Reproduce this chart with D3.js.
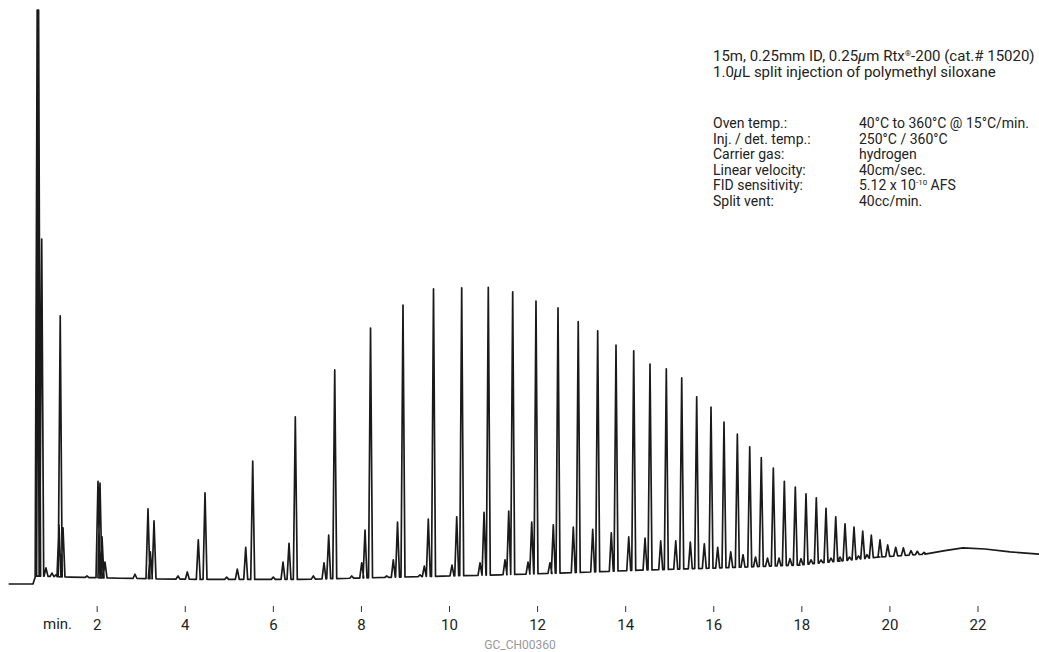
<!DOCTYPE html>
<html>
<head>
<meta charset="utf-8">
<script src="https://cdn.jsdelivr.net/npm/d3@7"></script>
<style>
  body { margin: 0; background: #fff; }
  svg { display: block; }
</style>
</head>
<body>
<div id="wrapper"></div>
<script>
// retention time (min) and apex signal (% full scale) of each peak
const peakTime = [
  0.649, 0.665, 0.681, 0.752, 0.849, 0.985, 1.076, 1.144, 1.172, 1.235, 1.780,
  2.030, 2.075, 2.121, 2.189, 2.870, 3.165, 3.218, 3.302, 3.847, 4.058,
  4.307, 4.460, 4.952, 5.193, 5.384, 5.543, 6.010, 6.231, 6.367, 6.510,
  6.919, 7.162, 7.268, 7.405, 7.791, 8.018, 8.093, 8.218, 8.585, 8.735,
  8.831, 8.955, 9.342, 9.439, 9.530, 9.648, 10.068, 10.175, 10.288, 10.704,
  10.795, 10.892, 11.272, 11.356, 11.446, 11.794, 11.878, 11.975, 12.293, 12.368,
  12.475, 12.822, 12.934, 13.263, 13.376, 13.685, 13.792, 14.081, 14.194, 14.451,
  14.564, 14.807, 14.934, 15.148, 15.284, 15.479, 15.624, 15.797, 15.949, 16.101,
  16.244, 16.397, 16.547, 16.676, 16.828, 16.960, 17.091, 17.232, 17.364, 17.493,
  17.614, 17.743, 17.863, 17.993, 18.106, 18.220, 18.340, 18.447, 18.560, 18.674,
  18.781, 18.878, 18.992, 19.094, 19.196, 19.298, 19.394, 19.491, 19.589, 19.786,
  19.961, 20.143, 20.316, 20.490, 20.633, 20.786
]
const peakHeight = [
  100, 100, 100, 60.1, 2.8, 1.9, 1.6, 10.3, 46.7, 9.8, 1.4,
  17.9, 17.6, 8.2, 3.8, 1.7, 13.1, 5.6, 11.0, 1.4, 2.1,
  7.7, 15.9, 1.2, 2.6, 6.4, 21.4, 1.2, 3.8, 7.1, 29.1,
  1.4, 3.7, 8.5, 37.3, 1.4, 3.7, 9.4, 44.6, 1.4, 4.2,
  10.8, 48.6, 1.6, 3.1, 11.3, 51.4, 3.3, 11.7, 51.6, 3.7,
  12.5, 51.7, 4.2, 12.7, 50.9, 3.8, 10.8, 49.3, 3.7, 10.3,
  48.1, 9.9, 45.7, 9.5, 44.1, 8.9, 41.6, 8.2, 40.6, 8.0,
  38.3, 7.5, 37.5, 7.5, 35.9, 7.3, 32.6, 7.0, 30.8, 6.4,
  28.2, 5.6, 26.1, 5.1, 23.9, 4.7, 22.0, 4.5, 20.2, 4.5,
  17.9, 4.4, 16.9, 4.4, 15.7, 4.2, 15.0, 4.2, 13.2, 4.5,
  11.7, 4.7, 10.5, 4.7, 9.9, 4.9, 9.2, 5.1, 8.5, 7.7,
  6.8, 6.4, 6.3, 5.8, 5.7, 5.5
]
// baseline drift between peaks
const baseTime = [0, 0.554, 0.611, 1.394, 2.530, 4.346, 6.617, 8.887, 11.158, 12.521,
  14.337, 16.154, 17.970, 18.878, 19.786, 20.808, 21.26, 21.671, 22.17, 22.74, 23.397]
const baseLevel = [0, 0, 1.4, 1.2, 1.0, 0.8, 0.8, 1.2, 1.6, 1.9,
  2.4, 2.8, 3.3, 4.0, 4.7, 5.2, 5.8, 6.3, 6.1, 5.6, 5.2]

const tickValues = [2, 4, 6, 8, 10, 12, 14, 16, 18, 20, 22]
const conditionLabels = ['Oven temp.:', 'Inj. / det. temp.:', 'Carrier gas:',
  'Linear velocity:', 'FID sensitivity:', 'Split vent:']
const conditionValues = ['40°C to 360°C @ 15°C/min.', '250°C / 360°C', 'hydrogen',
  '40cm/sec.', '5.12 x 10|-10| AFS', '40cc/min.']

const width = 1039
const height = 652
const halfWidth = 0.045
const font = 'Roboto, "Open Sans", sans-serif'

const svg = d3.select('#wrapper').append('svg')
  .attr('width', width)
  .attr('height', height)

const x = d3.scaleLinear().domain([0, 22]).range([8.6, 977.5])
const y = d3.scaleLinear().domain([0, 100]).range([584, 10])
const baseAt = d3.scaleLinear().domain(baseTime).range(baseLevel).clamp(true)

// build the trace: baseline points plus a foot-apex-foot for every peak
const pts = []
baseTime.forEach((t, i) => pts.push({ key: t, ord: 0, t: t, s: baseLevel[i] }))
peakTime.forEach((t, i) => {
  pts.push({ key: t, ord: 0, t: t - halfWidth, s: baseAt(t - halfWidth) })
  pts.push({ key: t, ord: 1, t: t, s: peakHeight[i] })
  pts.push({ key: t, ord: 2, t: t + halfWidth, s: baseAt(t + halfWidth) })
})
pts.sort((a, b) => a.key - b.key || a.ord - b.ord)

const line = d3.line()
  .x(d => x(d.t))
  .y(d => y(d.s))
  .curve(d3.curveLinear)

svg.append('path')
  .datum(pts)
  .attr('d', line)
  .attr('fill', 'none')
  .attr('stroke', '#1a1a1a')
  .attr('stroke-width', 1.7)
  .attr('stroke-linejoin', 'round')

// time axis, no domain line
const axisG = svg.append('g')
  .attr('transform', 'translate(0,606)')
  .call(d3.axisBottom(x).tickValues(tickValues).tickSize(6).tickPadding(7))
axisG.select('.domain').remove()
axisG.selectAll('line').attr('stroke', '#333')
axisG.selectAll('text')
  .attr('fill', '#222')
  .style('font-family', font)
  .style('font-size', '15px')

svg.append('text')
  .attr('x', 43).attr('y', 629)
  .attr('fill', '#222')
  .style('font-family', font).style('font-size', '15px')
  .text('min.')

svg.append('text')
  .attr('x', 520).attr('y', 649)
  .attr('text-anchor', 'middle')
  .attr('fill', '#999')
  .style('font-family', font).style('font-size', '12px')
  .text('GC_CH00360')

// column description
const info = svg.append('g')
  .style('font-family', font)
  .style('font-size', '14px')
  .attr('fill', '#222')

const l1 = info.append('text').attr('x', 713).attr('y', 61).style('font-size', '15px')
l1.append('tspan').text('15m, 0.25mm ID, 0.25')
l1.append('tspan').style('font-style', 'italic').text('µ')
l1.append('tspan').text('m Rtx')
l1.append('tspan').attr('dy', -5).style('font-size', '8px').text('®')
l1.append('tspan').attr('dy', 5).text('-200 (cat.# 15020)')

const l2 = info.append('text').attr('x', 713).attr('y', 77).style('font-size', '15px')
l2.append('tspan').text('1.0')
l2.append('tspan').style('font-style', 'italic').text('µ')
l2.append('tspan').text('L split injection of polymethyl siloxane')

conditionLabels.forEach((lab, i) => {
  const yy = 128 + i * 15.5
  info.append('text').attr('x', 713).attr('y', yy).text(lab)
  const v = info.append('text').attr('x', 859).attr('y', yy)
  const parts = conditionValues[i].split('|')
  v.append('tspan').text(parts[0])
  if (parts.length > 1) {
    v.append('tspan').attr('dy', -5).style('font-size', '8px').text(parts[1])
    v.append('tspan').attr('dy', 5).text(parts[2])
  }
})
</script>
</body>
</html>
